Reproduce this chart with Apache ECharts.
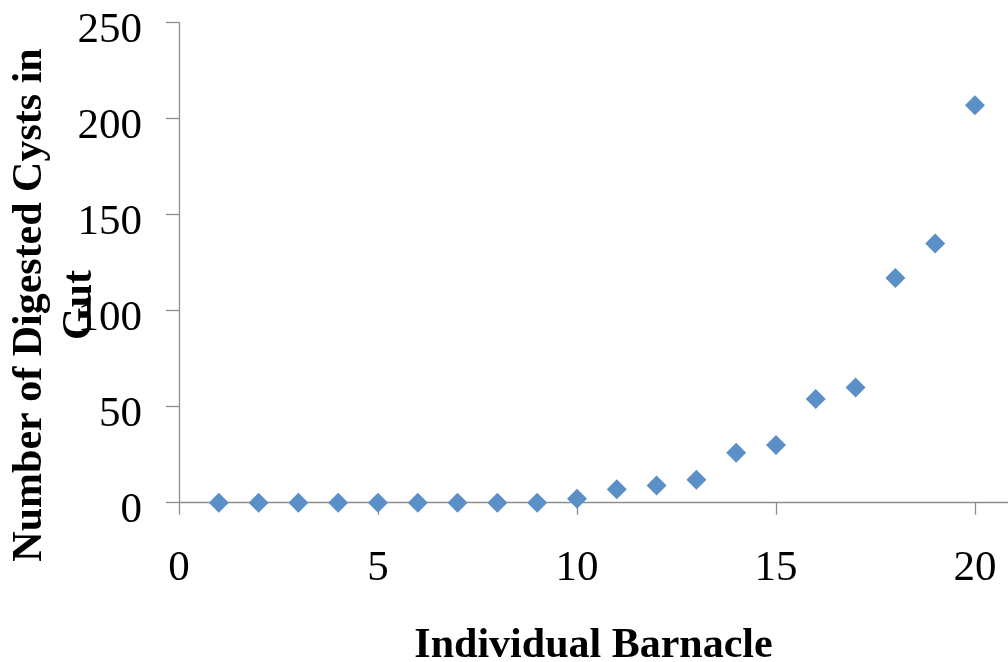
<!DOCTYPE html>
<html>
<head>
<meta charset="utf-8">
<script src="https://cdn.jsdelivr.net/npm/echarts@6/dist/echarts.min.js"></script>
<style>
html,body{margin:0;padding:0;background:#fff;}
#chart{width:1008px;height:662px;}
</style>
</head>
<body>
<div id="chart"></div>
<script>
const barnacle = [1, 2, 3, 4, 5, 6, 7, 8, 9, 10, 11, 12, 13, 14, 15, 16, 17, 18, 19, 20];
const cysts = [0, 0, 0, 0, 0, 0, 0, 0, 0, 2, 7, 9, 12, 26, 30, 54, 60, 117, 135, 207];
const xTicks = [0, 5, 10, 15, 20];
const yTicks = [0, 50, 100, 150, 200, 250];
const xTitle = 'Individual Barnacle';
const yTitleLines = ['Number of Digested Cysts in', 'Gut'];

const font = '"Liberation Serif", "Times New Roman", serif';
const axisColor = '#8e8e8e';
const chart = echarts.init(document.getElementById('chart'));
chart.setOption({
  animation: false,
  backgroundColor: '#ffffff',
  grid: { left: 179, top: 22.7, right: 0, bottom: 159.3, containLabel: false, outerBoundsMode: 'none' },
  xAxis: {
    type: 'value',
    min: 0,
    max: 20.83,
    splitLine: { show: false },
    axisLine: { show: true, onZero: false, lineStyle: { color: axisColor, width: 1.3 } },
    axisTick: { show: true, inside: false, length: 12, customValues: xTicks, lineStyle: { color: axisColor, width: 1.3 } },
    axisLabel: { customValues: xTicks, margin: 45, color: '#000', fontFamily: font, fontSize: 43 },
    name: xTitle,
    nameLocation: 'middle',
    nameGap: 122,
    nameTextStyle: { color: '#000', fontFamily: font, fontSize: 42, fontWeight: 'bold' }
  },
  yAxis: {
    type: 'value',
    min: yTicks[0],
    max: yTicks[yTicks.length - 1],
    interval: 50,
    splitLine: { show: false },
    axisLine: { show: true, lineStyle: { color: axisColor, width: 1.3 } },
    axisTick: { show: true, inside: false, length: 13, lineStyle: { color: axisColor, width: 1.3 } },
    axisLabel: {
      margin: 37,
      formatter: '{v|{value}}',
      rich: { v: { color: '#000', fontFamily: font, fontSize: 43, padding: [16, 0, 0, 0] } }
    }
  },
  graphic: [{
    type: 'text',
    x: 55,
    y: 305,
    rotation: Math.PI / 2,
    style: {
      text: yTitleLines.join('\n'),
      fontFamily: font,
      fontSize: 42,
      fontWeight: 'bold',
      lineHeight: 50,
      fill: '#000',
      align: 'center',
      verticalAlign: 'middle'
    }
  }],
  series: [{
    type: 'scatter',
    data: barnacle.map((b, i) => [b, cysts[i]]),
    symbol: 'diamond',
    symbolSize: [20, 20],
    itemStyle: { color: '#5b8fc7', opacity: 1 }
  }]
});
</script>
</body>
</html>
